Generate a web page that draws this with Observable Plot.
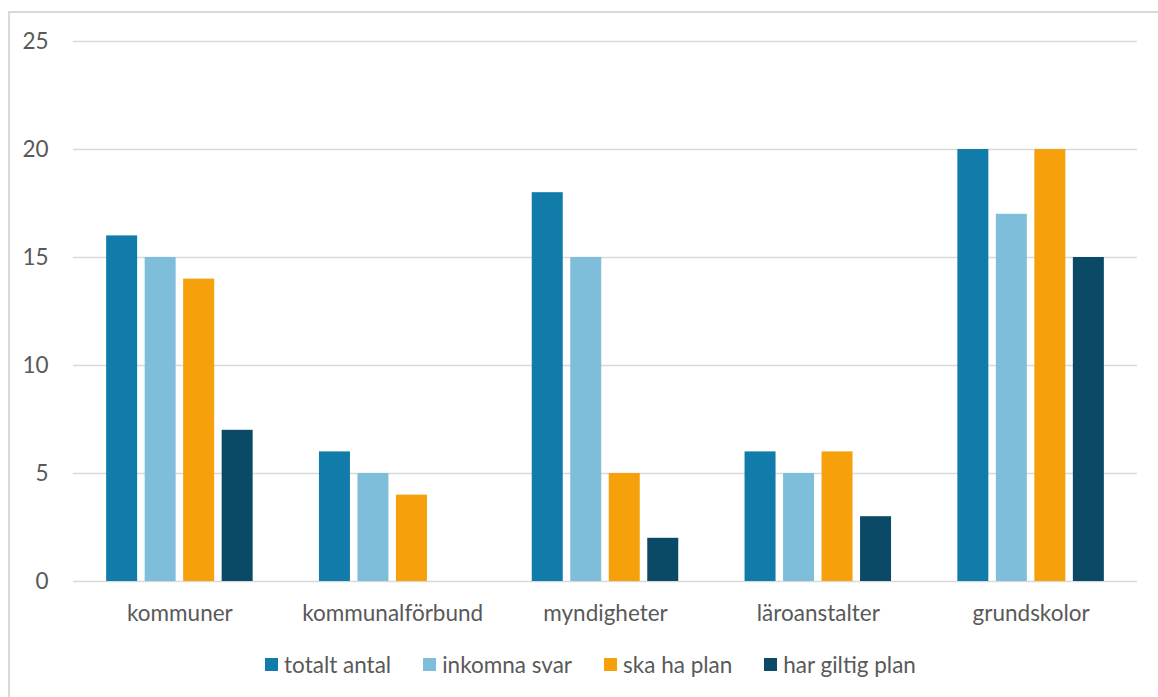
<!DOCTYPE html>
<html><head><meta charset="utf-8">
<script src="https://cdn.jsdelivr.net/npm/d3@7"></script>
<script src="https://cdn.jsdelivr.net/npm/@observablehq/plot@0.6"></script>
<style>
body{margin:0;background:#fff;font-family:Lato,sans-serif;}
#wrap{position:relative;width:1158px;height:697px;overflow:hidden;background:#fff;}
#frame{position:absolute;left:8px;top:11px;width:1170px;height:710px;border:2px solid #d9d9d9;box-sizing:border-box;}
#chart{position:absolute;left:0;top:0;}
#legend{position:absolute;top:651px;left:0;width:1158px;box-sizing:border-box;padding-left:23px;display:flex;justify-content:center;align-items:center;font-size:22.5px;color:#595959;white-space:nowrap;}
.item{display:flex;align-items:center;margin:0 16px;}
.sw{width:13px;height:13px;margin-right:6px;}
</style></head>
<body>
<div id="wrap"><div id="frame"></div><div id="chart"></div><div id="legend"></div></div>
<script>
const categories = ["kommuner","kommunalförbund","myndigheter","läroanstalter","grundskolor"];
const seriesNames = ["totalt antal","inkomna svar","ska ha plan","har giltig plan"];
const seriesColors = ["#117BAA","#7FBEDA","#F6A00C","#0B4A66"];
const totaltAntal = [16,6,18,6,20];
const inkomnaSvar = [15,5,15,5,17];
const skaHaPlan = [14,4,5,6,20];
const harGiltigPlan = [7,0,2,3,15];
const yTicks = [0,5,10,15,20,25];

const seriesValues = [totaltAntal, inkomnaSvar, skaHaPlan, harGiltigPlan];
const data = [];
categories.forEach((c, i) => {
  seriesNames.forEach((s, j) => {
    data.push({category: c, series: s, value: seriesValues[j][i]});
  });
});

const chart = Plot.plot({
  width: 1158, height: 630,
  marginLeft: 73, marginRight: 21, marginTop: 41, marginBottom: 49,
  style: {fontFamily: "Lato, sans-serif", fontSize: "22.5px", color: "#595959", background: "transparent"},
  fx: {domain: categories, padding: 0, round: false, label: null, axis: "bottom", tickSize: 0, tickPadding: 24},
  x: {domain: seriesNames, axis: null, round: false, paddingInner: 0.195, paddingOuter: 0.861},
  y: {domain: [0, 25], ticks: yTicks, tickSize: 0, tickPadding: 25, label: null},
  color: {domain: seriesNames, range: seriesColors},
  marks: [
    Plot.ruleY(yTicks, {stroke: "#d9d9d9", strokeWidth: 1.5}),
    Plot.barY(data, {fx: "category", x: "series", y: "value", fill: "series"})
  ]
});
document.getElementById("chart").appendChild(chart);

const legend = document.getElementById("legend");
seriesNames.forEach((s, j) => {
  const item = document.createElement("div");
  item.className = "item";
  const sw = document.createElement("div");
  sw.className = "sw";
  sw.style.background = seriesColors[j];
  const t = document.createElement("span");
  t.textContent = s;
  item.appendChild(sw); item.appendChild(t);
  legend.appendChild(item);
});
</script>
</body></html>
